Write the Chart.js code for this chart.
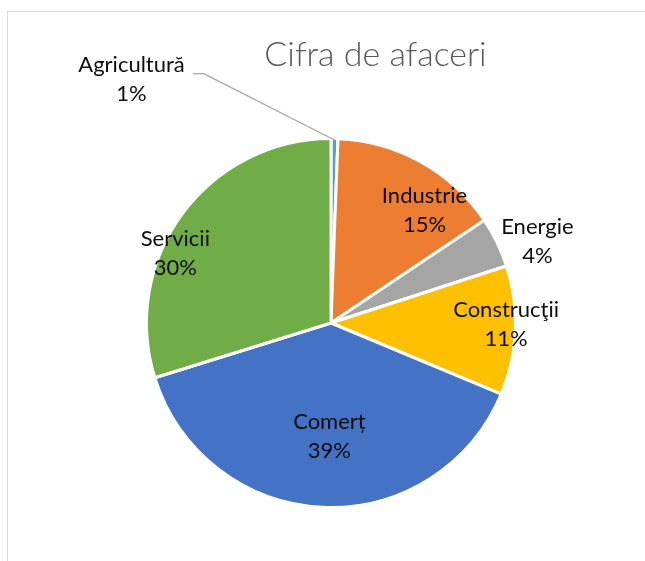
<!DOCTYPE html>
<html>
<head>
<meta charset="utf-8">
<script src="https://cdn.jsdelivr.net/npm/chart.js@4"></script>
<style>
  html, body { margin: 0; padding: 0; background: #fff; overflow: hidden; }
  #wrap { position: relative; width: 645px; height: 561px; }
  #frame {
    position: absolute; left: 7px; top: 11px; width: 700px; height: 600px;
    border: 1px solid #d9d9d9; box-sizing: border-box;
  }
  #pie { position: absolute; left: 0; top: 0; }
</style>
</head>
<body>
<div id="wrap">
  <div id="frame"></div>
  <canvas id="pie" width="645" height="561"></canvas>
</div>
<script>
"use strict";

const TITLE = "Cifra de afaceri";

// slices clockwise from 12 o'clock
const categories = ["Agricultură", "Industrie", "Energie", "Construcţii", "Comerț", "Servicii"];
const shares = [0.6, 15.0, 4.4, 11.3, 38.9, 29.8];
const colors = ["#5B9BD5", "#ED7D31", "#A5A5A5", "#FFC000", "#4472C4", "#70AD47"];

// label placement: [radius factor, angle nudge in degrees] per slice
const labelPlacement = [
  [1.71, -40.3],
  [0.797, 10.3],
  [1.205, 4.1],
  [0.949, -2.2],
  [0.612, -1.9],
  [0.927, -11.9],
];

const LABEL_FONT = "22px Lato, 'Open Sans', sans-serif";
const LINE_H = 29;

const total = shares.reduce((a, b) => a + b, 0);
const pct = (v) => Math.round((v / total) * 100) + "%";

const deg = (d) => (d * Math.PI) / 180;

const pieLabels = {
  id: "pieLabels",
  afterDatasetsDraw(chart) {
    const ctx = chart.ctx;
    const arcs = chart.getDatasetMeta(0).data;
    ctx.save();
    ctx.font = LABEL_FONT;
    ctx.fillStyle = "#0d0d0d";
    ctx.textAlign = "center";
    ctx.textBaseline = "alphabetic";
    arcs.forEach((arc, i) => {
      const p = arc.getProps(["x", "y", "startAngle", "endAngle", "outerRadius"], true);
      const [f, nudge] = labelPlacement[i];
      const mid = (p.startAngle + p.endAngle) / 2;
      const a = mid + deg(nudge);
      const cx = p.x + Math.cos(a) * p.outerRadius * f;
      const cy = p.y + Math.sin(a) * p.outerRadius * f;
      const l1 = categories[i], l2 = pct(shares[i]);
      ctx.fillText(l1, cx, cy - LINE_H / 2 + 8);
      ctx.fillText(l2, cx, cy + LINE_H / 2 + 8);

      // leader line for labels placed outside a tiny slice
      if (f > 1.4) {
        const w = ctx.measureText(l1).width;
        const sx = cx + w / 2 + 8;
        const sy = cy - 5;
        const ex = p.x + Math.cos(mid) * (p.outerRadius - 1.5);
        const ey = p.y + Math.sin(mid) * (p.outerRadius - 1.5);
        ctx.strokeStyle = "#A6A6A6";
        ctx.lineWidth = 1.3;
        ctx.beginPath();
        ctx.moveTo(sx, sy);
        ctx.lineTo(sx + 11, sy);
        ctx.lineTo(ex, ey);
        ctx.stroke();
      }
    });

    // chart title
    ctx.font = "300 34px Lato, 'Open Sans', sans-serif";
    ctx.fillStyle = "#595959";
    ctx.textAlign = "center";
    ctx.fillText(TITLE, 375.5, 66);
    ctx.restore();
  },
};

new Chart(document.getElementById("pie"), {
  type: "pie",
  data: {
    labels: categories,
    datasets: [{
      data: shares,
      backgroundColor: colors,
      borderColor: "#ffffff",
      borderWidth: 3,
      hoverOffset: 0,
      offset: 0,
    }],
  },
  options: {
    responsive: false,
    animation: false,
    devicePixelRatio: 1,
    layout: { padding: { left: 145, right: 128, top: 137, bottom: 52 } },
    plugins: {
      legend: { display: false },
      title: { display: false },
      tooltip: { enabled: false },
    },
  },
  plugins: [pieLabels],
});
</script>
</body>
</html>
